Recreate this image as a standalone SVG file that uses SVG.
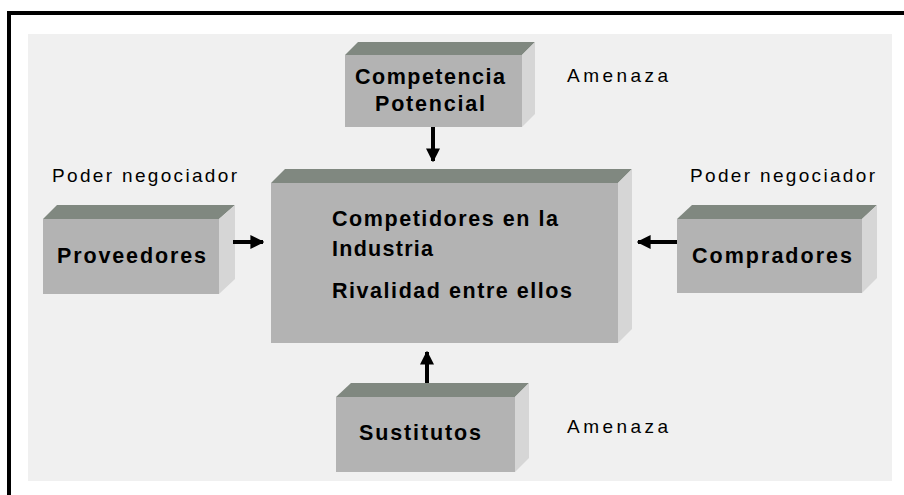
<svg xmlns="http://www.w3.org/2000/svg" width="904" height="495" viewBox="0 0 904 495">
<defs>
<style>
.top{fill:#808880}
.front{fill:#b3b3b3}
.side{fill:#d6d6d6}
.b{font-family:"Liberation Sans",Arial,sans-serif;font-weight:bold;font-size:21.5px;fill:#000}
.r{font-family:"Liberation Sans",Arial,sans-serif;font-size:19px;fill:#000}
.arr{stroke:#000;stroke-width:4;fill:none}
</style>
<marker id="ah" viewBox="0 0 10 10" refX="9" refY="5" markerWidth="3.5" markerHeight="3.5" orient="auto" markerUnits="strokeWidth">
<path d="M0,0 L10,5 L0,10 Z" fill="#000"/>
</marker>
</defs>
<rect x="0" y="0" width="904" height="495" fill="#fff"/>
<rect x="28" y="34" width="864" height="447" fill="#f0f0f0"/>
<path d="M9,495 V13 H904" stroke="#000" stroke-width="4" fill="none"/>

<g id="competencia">
<polygon class="top" points="345,55 358,42 535,42 522,55"/>
<polygon class="side" points="522,55 535,42 535,114 522,127"/>
<rect class="front" x="345" y="55" width="177" height="72"/>
<text class="b" x="355" y="84" textLength="150" lengthAdjust="spacing">Competencia</text>
<text class="b" x="375" y="111" textLength="110" lengthAdjust="spacing">Potencial</text>
</g>

<g id="proveedores">
<polygon class="top" points="43,219 57,205 235,205 219,219"/>
<polygon class="side" points="219,219 235,205 235,279 219,294"/>
<rect class="front" x="43" y="219" width="176" height="75"/>
<text class="b" x="57" y="263" textLength="149" lengthAdjust="spacing">Proveedores</text>
</g>

<g id="industria">
<polygon class="top" points="271,183 285,169 632,169 618,183"/>
<polygon class="side" points="618,183 632,169 632,329 618,343"/>
<rect class="front" x="271" y="183" width="347" height="160"/>
<text class="b" x="332" y="226" textLength="226" lengthAdjust="spacing">Competidores en la</text>
<text class="b" x="332" y="256" textLength="101" lengthAdjust="spacing">Industria</text>
<text class="b" x="332" y="298" textLength="240" lengthAdjust="spacing">Rivalidad entre ellos</text>
</g>

<g id="compradores">
<polygon class="top" points="677,219 692,205 877,205 862,219"/>
<polygon class="side" points="862,219 877,205 877,278 862,293"/>
<rect class="front" x="677" y="219" width="185" height="74"/>
<text class="b" x="692" y="263" textLength="160" lengthAdjust="spacing">Compradores</text>
</g>

<g id="sustitutos">
<polygon class="top" points="336,397 351,383 529,383 515,397"/>
<polygon class="side" points="515,397 529,383 529,458 515,472"/>
<rect class="front" x="336" y="397" width="179" height="75"/>
<text class="b" x="359" y="440" textLength="122" lengthAdjust="spacing">Sustitutos</text>
</g>

<g id="labels">
<text class="r" x="567" y="82" textLength="101" lengthAdjust="spacing">Amenaza</text>
<text class="r" x="52" y="182" textLength="185" lengthAdjust="spacing">Poder negociador</text>
<text class="r" x="690" y="182" textLength="185" lengthAdjust="spacing">Poder negociador</text>
<text class="r" x="567" y="433" textLength="101" lengthAdjust="spacing">Amenaza</text>
</g>

<g id="connectors">
<path class="arr" d="M433,127 V161" marker-end="url(#ah)"/>
<path class="arr" d="M233,242 H263" marker-end="url(#ah)"/>
<path class="arr" d="M677,242 H638" marker-end="url(#ah)"/>
<path class="arr" d="M427,383 V352" marker-end="url(#ah)"/>
</g>
</svg>
